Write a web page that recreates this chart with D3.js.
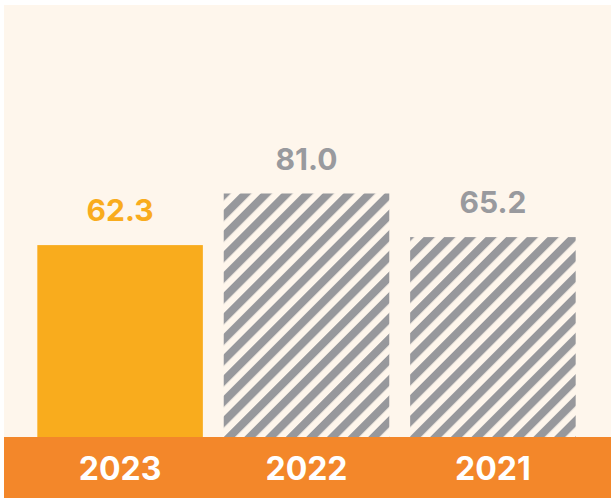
<!DOCTYPE html>
<meta charset="utf-8">
<style>
body { margin: 0; background: #fff; }
svg { display: block; }
text { font-family: Inter, "Open Sans", sans-serif; font-weight: 700; }
</style>
<body>
<script src="https://d3js.org/d3.v7.min.js"></script>
<script>

let years = ["2023", "2022", "2021"];
let values = [62.3, 81.0, 65.2];
let labels = ["62.3", "81.0", "65.2"];

let width = 611,
    height = 498,
    baseY = 437;

let svg = d3.select("body").append("svg")
	.attr("width", width)
	.attr("height", height);

let defs = svg.append("defs");
let pat = defs.append("pattern")
	.attr("id", "hatch")
	.attr("patternUnits", "userSpaceOnUse")
	.attr("width", 14.6)
	.attr("height", 14.6)
	.attr("patternTransform", "rotate(45)");
pat.append("rect").attr("width", 14.6).attr("height", 14.6).attr("fill", "#FEF6EC");
pat.append("rect").attr("width", 8).attr("height", 14.6).attr("fill", "#97989C");

// background
svg.append("rect")
	.attr("x", 4).attr("y", 5)
	.attr("width", width - 4).attr("height", height - 5)
	.attr("fill", "#FEF6EC");

let x = d3.scaleBand()
	.domain(years)
	.range([28, 585])
	.paddingInner(0.112)
	.paddingOuter(0.05);

// zero sits a little above the orange band, bars run down to it
let y = d3.scaleLinear()
	.domain([0, 81])
	.range([417, 193.5]);

svg.selectAll("rect.bar")
	.data(years)
	.enter().append("rect")
	.attr("class", "bar")
	.attr("x", d => x(d))
	.attr("width", x.bandwidth())
	.attr("y", (d, i) => y(values[i]))
	.attr("height", (d, i) => baseY - y(values[i]))
	.attr("fill", (d, i) => i === 0 ? "#F9AC1D" : "url(#hatch)");

svg.selectAll("text.val")
	.data(years)
	.enter().append("text")
	.attr("class", "val")
	.attr("x", d => x(d) + x.bandwidth() / 2)
	.attr("y", (d, i) => y(values[i]) - 24)
	.attr("text-anchor", "middle")
	.attr("font-size", 30)
	.attr("fill", (d, i) => i === 0 ? "#F9AC1D" : "#999A9E")
	.text((d, i) => labels[i]);

// bottom band
svg.append("rect")
	.attr("x", 4).attr("y", baseY)
	.attr("width", width - 4).attr("height", height - baseY)
	.attr("fill", "#F3872A");

svg.selectAll("text.year")
	.data(years)
	.enter().append("text")
	.attr("class", "year")
	.attr("x", d => x(d) + x.bandwidth() / 2)
	.attr("y", 480)
	.attr("text-anchor", "middle")
	.attr("font-size", 32)
	.attr("fill", "#fff")
	.text(d => d);

</script>
</body>
